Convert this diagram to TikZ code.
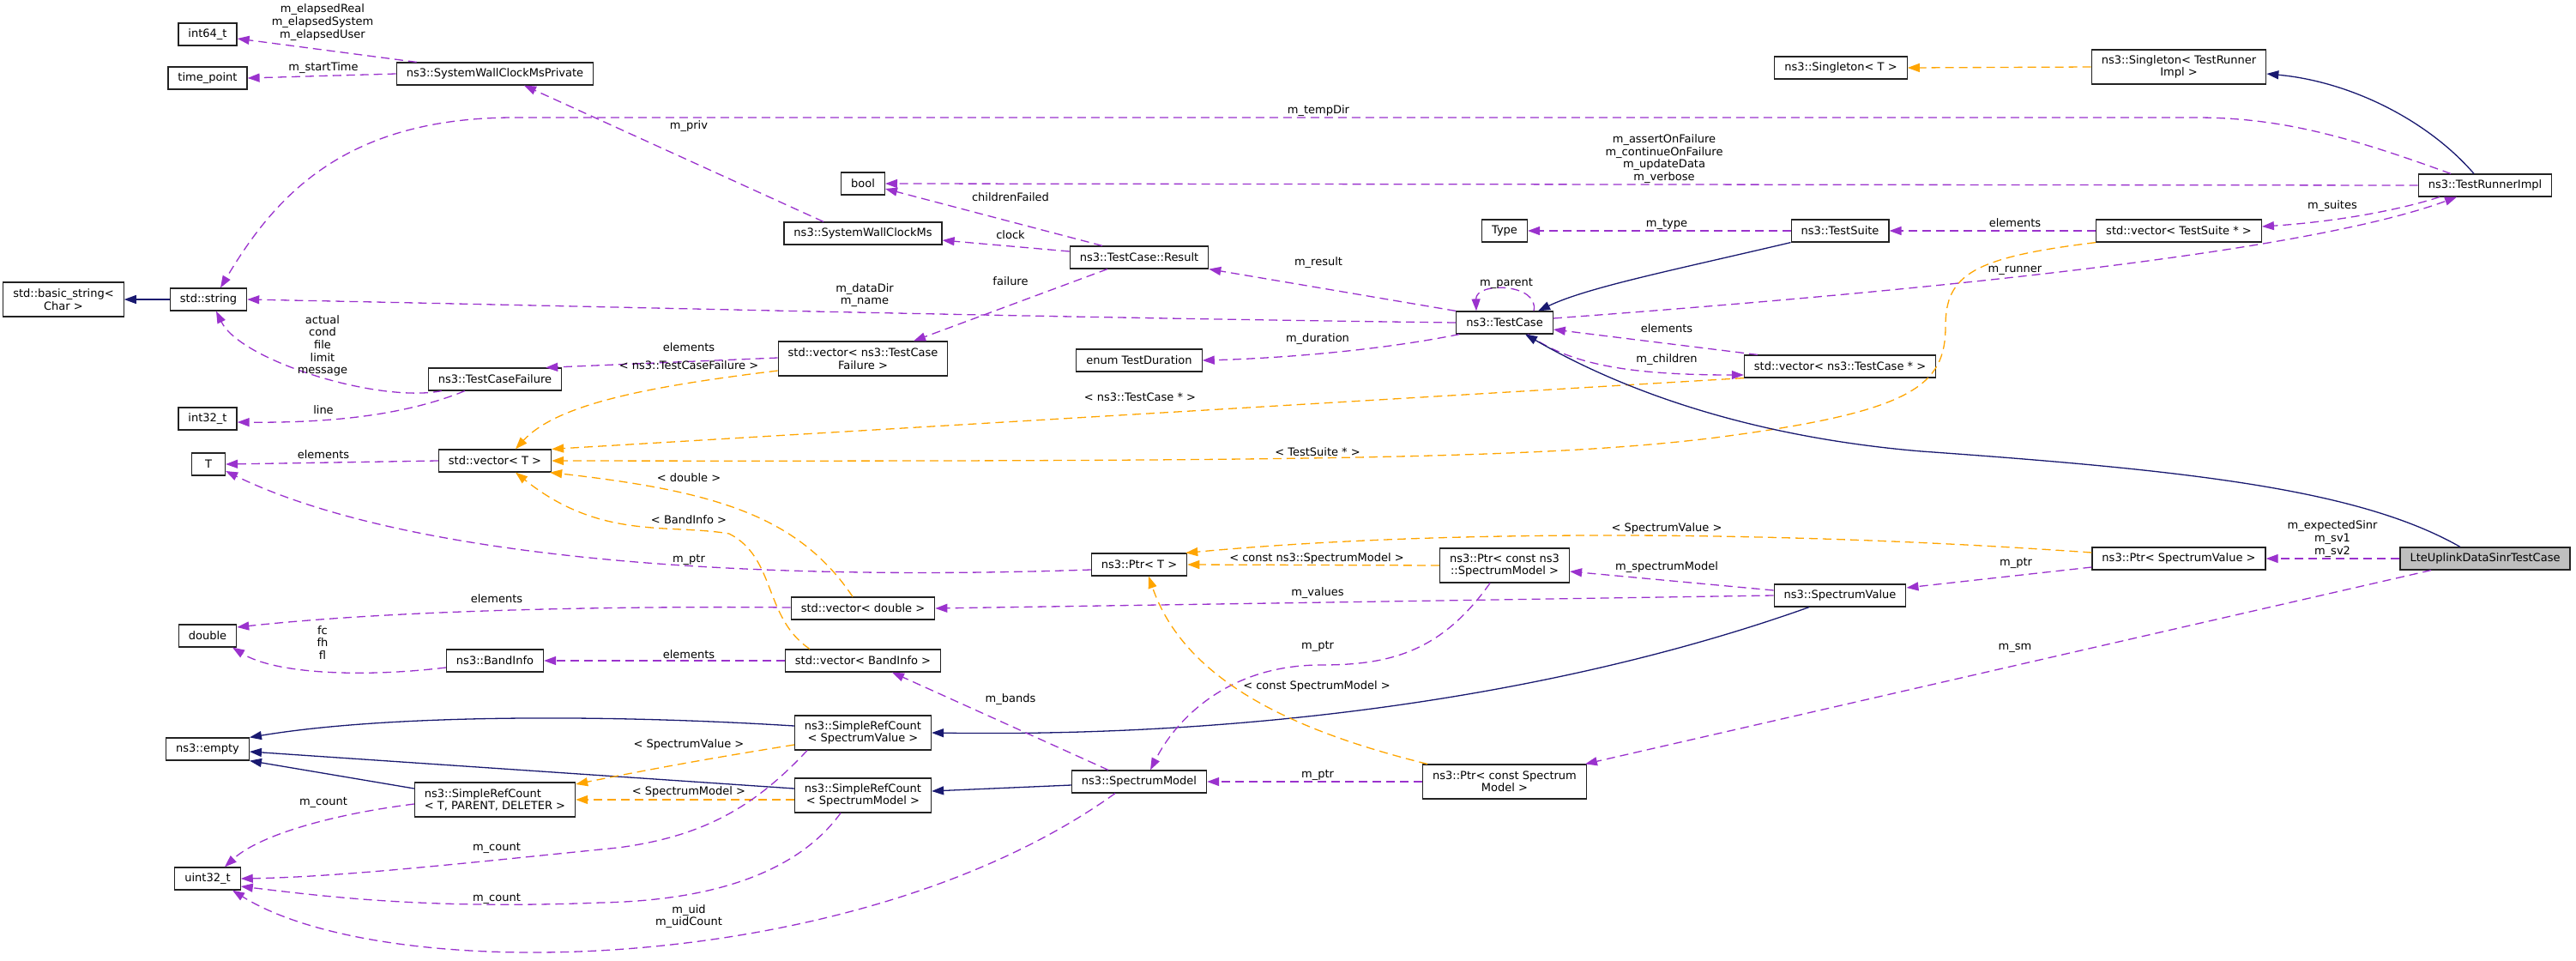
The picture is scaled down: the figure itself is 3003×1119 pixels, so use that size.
\documentclass[tikz,border=0pt]{standalone}
\usepackage{fontspec}
\setmainfont{DejaVu Sans}
\usetikzlibrary{arrows.meta}
\definecolor{memcol}{HTML}{9A32CD}
\definecolor{inhcol}{HTML}{191970}
\definecolor{tplcol}{HTML}{FFA500}
\definecolor{boxgray}{HTML}{222222}
\definecolor{rootfill}{HTML}{BFBFBF}
\begin{document}
\begin{tikzpicture}[x=1pt,y=-1pt,
    box/.style={draw=boxgray,line width=1.2pt,fill=white,font=\fontsize{13}{14.3}\selectfont,
      inner xsep=11.5pt,inner ysep=0pt,minimum height=26pt,minimum width=39pt,align=center},
    box2/.style={box,minimum height=40pt},
    rootbox/.style={box,fill=rootfill},
    lbl/.style={font=\fontsize{13}{14.6}\selectfont,inner sep=0pt,align=center},
    member/.style={draw=memcol,line width=1.3pt,dash pattern=on 10pt off 6pt,-{Triangle[length=14pt,width=10pt]}},
    templ/.style={draw=tplcol,line width=1.3pt,dash pattern=on 10pt off 6pt,-{Triangle[length=14pt,width=10pt]}},
    inherit/.style={draw=inhcol,line width=1.3pt,-{Triangle[length=14pt,width=10pt]}}]
\useasboundingbox (0,0) rectangle (3003,1119);

\node[box] (n-int64) at (242,40) {int64\_t};
\node[box] (n-timept) at (242,91) {time\_point};
\node[box] (n-swcmp) at (577,86) {ns3::SystemWallClockMsPrivate};
\node[box2] (n-bstr) at (74,349) {std::basic\_string<\\Char >};
\node[box] (n-str) at (243,349) {std::string};
\node[box] (n-tcf) at (577,442) {ns3::TestCaseFailure};
\node[box] (n-int32) at (242,488) {int32\_t};
\node[box] (n-T) at (243,541) {T};
\node[box] (n-vecT) at (577,537) {std::vector< T >};
\node[box] (n-double) at (242,741) {double};
\node[box] (n-band) at (577,770) {ns3::BandInfo};
\node[box] (n-empty) at (242,873) {ns3::empty};
\node[box2,align=left] (n-srcT) at (577,932) {ns3::SimpleRefCount\\< T, PARENT, DELETER >};
\node[box] (n-u32) at (242,1024) {uint32\_t};
\node[box] (n-bool) at (1006,214) {bool};
\node[box] (n-swcms) at (1006,272) {ns3::SystemWallClockMs};
\node[box2] (n-vtcf) at (1006,418) {std::vector< ns3::TestCase\\Failure >};
\node[box] (n-vdbl) at (1006,709) {std::vector< double >};
\node[box] (n-vband) at (1006,770) {std::vector< BandInfo >};
\node[box2] (n-srcsv) at (1006,854) {ns3::SimpleRefCount\\< SpectrumValue >};
\node[box2] (n-srcsm) at (1006,927) {ns3::SimpleRefCount\\< SpectrumModel >};
\node[box] (n-result) at (1328,300) {ns3::TestCase::Result};
\node[box] (n-dur) at (1328,420) {enum TestDuration};
\node[box] (n-ptrT) at (1328,658) {ns3::Ptr< T >};
\node[box] (n-sm) at (1328,911) {ns3::SpectrumModel};
\node[box] (n-type) at (1754,269) {Type};
\node[box] (n-tc) at (1754,376) {ns3::TestCase};
\node[box2] (n-pcns3) at (1754,659) {ns3::Ptr< const ns3\\::SpectrumModel >};
\node[box2] (n-pcsm) at (1754,911) {ns3::Ptr< const Spectrum\\Model >};
\node[box] (n-sgT) at (2146,79) {ns3::Singleton< T >};
\node[box] (n-suite) at (2145,269) {ns3::TestSuite};
\node[box] (n-vtc) at (2145,427) {std::vector< ns3::TestCase * >};
\node[box] (n-sv) at (2145,694) {ns3::SpectrumValue};
\node[box2] (n-sgtri) at (2540,78) {ns3::Singleton< TestRunner\\Impl >};
\node[box] (n-vts) at (2540,269) {std::vector< TestSuite * >};
\node[box] (n-psv) at (2540,651) {ns3::Ptr< SpectrumValue >};
\node[box] (n-tri) at (2897,216) {ns3::TestRunnerImpl};
\node[rootbox] (n-lte) at (2897,651) {LteUplinkDataSinrTestCase};

\draw[member] ([xshift=24pt]n-swcmp.north west) -- ([yshift=-5pt]n-int64.east);
\draw[member] (n-swcmp.west) -- (n-timept.east);
\draw[member] ([xshift=-40pt]n-tri.north) .. controls (2740,160) and (2660,137) .. (2560,137) -- (600,137)
  .. controls (400,137) and (320,230) .. ([xshift=14pt]n-str.north);
\draw[inherit] (n-str.west) -- (n-bstr.east);
\draw[member] (n-tc.west) .. controls (1200,370) and (700,357) .. (n-str.east);
\draw[member] ([xshift=16pt]n-tcf.south west) .. controls (440,470) and (280,420) .. ([xshift=9pt]n-str.south);
\draw[member] ([xshift=43pt]n-tcf.south west) .. controls (470,485) and (380,493) .. ([yshift=-4pt]n-int32.east);
\draw[member] ([yshift=1pt]n-vtcf.west) -- ([xshift=-19pt]n-tcf.north east);
\draw[templ] ([yshift=-14pt]n-vtcf.west) .. controls (760,450) and (650,470) .. ([xshift=24pt]n-vecT.north);
\draw[member] (n-vecT.west) -- (n-T.east);
\draw[member] ([yshift=-6pt]n-ptrT.west) .. controls (800,680) and (450,640) .. ([yshift=-8pt]n-T.east);
\draw[member] ([xshift=-46pt]n-swcms.north) -- ([xshift=34pt]n-swcmp.south);
\draw[member] (n-tri.west) -- (n-bool.east);
\draw[member] ([xshift=-43pt]n-result.north) -- ([yshift=-6pt]n-bool.east);
\draw[member] ([yshift=7pt]n-result.west) -- ([yshift=-8pt]n-swcms.east);
\draw[member] ([xshift=-37pt]n-result.south) -- ([xshift=59pt]n-vtcf.north);
\draw[member] (n-tc.north west) -- (n-result.south east);
\draw[member] ([xshift=4pt]n-tc.south west) .. controls (1600,410) and (1480,418) .. (n-dur.east);
\draw[member] ([xshift=34pt]n-tc.north) .. controls (1795,330) and (1720,328) .. ([xshift=-33pt]n-tc.north);
\draw[member] ([xshift=16pt]n-vtc.north west) -- ([yshift=-8pt]n-tc.east);
\draw[member] ([xshift=27pt]n-tc.south) .. controls (1830,425) and (1900,437) .. ([yshift=-10pt]n-vtc.west);
\draw[templ] (n-vtc.south west) -- (n-vecT.north east);
\draw[templ] (n-vts.south west) .. controls (2300,300) and (2268,320) .. (2268,380)
  .. controls (2268,450) and (2230,480) .. (2000,510) .. controls (1800,535) and (1500,538) .. (n-vecT.east);
\draw[inherit] (n-suite.south west) .. controls (1950,315) and (1850,335) .. ([xshift=39pt]n-tc.north);
\draw[member] (n-vts.west) -- (n-suite.east);
\draw[member] (n-suite.west) -- (n-type.east);
\draw[member] ([xshift=-53pt]n-tri.south) .. controls (2780,250) and (2700,260) .. ([yshift=5pt]n-vts.east);
\draw[member] ([yshift=5pt]n-tc.east) .. controls (2300,335) and (2700,290) .. ([xshift=-33pt]n-tri.south);
\draw[inherit] ([xshift=-13pt]n-tri.north) .. controls (2830,140) and (2740,95) .. ([yshift=-8pt]n-sgtri.east);
\draw[templ] (n-sgtri.west) -- (n-sgT.east);
\draw[inherit] ([xshift=-29pt]n-lte.north) .. controls (2750,570) and (2550,548) .. (2240,526)
  .. controls (2050,510) and (1900,460) .. ([xshift=24pt]n-tc.south);
\draw[member] (n-lte.west) -- (n-psv.east);
\draw[member] ([xshift=-63pt]n-lte.south) -- ([xshift=-2pt]n-pcsm.north east);
\draw[member] ([yshift=-10pt]n-psv.west) -- ([yshift=9pt]n-sv.east);
\draw[templ] ([yshift=7pt]n-psv.west) .. controls (2100,620) and (1700,615) .. ([xshift=-2pt]n-ptrT.north east);
\draw[member] ([yshift=6pt]n-sv.west) -- ([yshift=-7pt]n-pcns3.east);
\draw[member] (n-sv.west) -- (n-vdbl.east);
\draw[inherit] ([xshift=-36pt]n-sv.south) .. controls (1850,800) and (1500,860) .. (n-srcsv.east);
\draw[templ] (n-pcns3.west) -- (n-ptrT.east);
\draw[member] ([xshift=-17pt]n-pcns3.south) .. controls (1680,760) and (1620,775) .. (1540,775)
  .. controls (1430,775) and (1370,840) .. ([xshift=13pt]n-sm.north);
\draw[templ] ([xshift=6pt]n-pcsm.north west) .. controls (1500,850) and (1380,790) .. ([xshift=11pt]n-ptrT.south);
\draw[member] (n-pcsm.west) -- (n-sm.east);
\draw[member] ([xshift=-36pt]n-sm.north) -- ([xshift=34pt]n-vband.south);
\draw[inherit] ([yshift=-4pt]n-sm.west) -- ([yshift=5pt]n-srcsm.east);
\draw[member] ([xshift=-28pt]n-sm.south) .. controls (1000,1140) and (450,1150) .. ([xshift=29pt]n-u32.south);
\draw[member] ([yshift=1pt]n-vdbl.west) .. controls (700,706) and (450,712) .. ([yshift=10pt]n-double.east);
\draw[templ] ([xshift=-12pt]n-vdbl.north) .. controls (930,600) and (830,572) .. ([xshift=-2pt]n-vecT.south east);
\draw[templ] ([xshift=-62pt]n-vband.north) .. controls (890,720) and (905,650) .. (850,622)
  .. controls (780,610) and (700,630) .. ([xshift=24pt]n-vecT.south);
\draw[member] (n-vband.west) -- (n-band.east);
\draw[member] ([yshift=-8pt]n-band.west) .. controls (420,790) and (320,785) .. ([xshift=29pt]n-double.south);
\draw[inherit] ([yshift=8pt]n-srcsv.west) .. controls (700,832) and (450,833) .. (n-empty.north east);
\draw[inherit] ([yshift=8pt]n-srcsm.west) -- ([yshift=-3pt]n-empty.east);
\draw[inherit] ([yshift=13pt]n-srcT.west) -- (n-empty.south east);
\draw[templ] ([yshift=-14pt]n-srcsv.west) .. controls (820,885) and (750,898) .. ([yshift=18pt]n-srcT.east);
\draw[templ] ([yshift=-5pt]n-srcsm.west) -- (n-srcT.east);
\draw[member] ([yshift=-5pt]n-srcT.west) .. controls (380,950) and (300,975) .. ([xshift=20pt]n-u32.north);
\draw[member] ([xshift=-65pt]n-srcsv.south) .. controls (880,940) and (820,975) .. (720,988)
  .. controls (550,1005) and (400,1022) .. (n-u32.east);
\draw[member] ([xshift=-26pt]n-srcsm.south) .. controls (920,1030) and (800,1050) .. (700,1052)
  .. controls (500,1060) and (380,1045) .. ([yshift=-9pt]n-u32.east);

\node[lbl] (l-elapsed) at (376,26) {m\_elapsedReal\\m\_elapsedSystem\\m\_elapsedUser};
\node[lbl] (l-start) at (377,79) {m\_startTime};
\node[lbl] (l-tempdir) at (1537,129) {m\_tempDir};
\node[lbl] (l-priv) at (803,147) {m\_priv};
\node[lbl] (l-flags) at (1940,185) {m\_assertOnFailure\\m\_continueOnFailure\\m\_updateData\\m\_verbose};
\node[lbl] (l-chfailed) at (1178,230) {childrenFailed};
\node[lbl] (l-suiteel) at (2349,260) {elements};
\node[lbl] (l-type) at (1943,261) {m\_type};
\node[lbl] (l-suites) at (2719,240) {m\_suites};
\node[lbl] (l-clock) at (1178,274) {clock};
\node[lbl] (l-result) at (1537,306) {m\_result};
\node[lbl] (l-runner) at (2349,315) {m\_runner};
\node[lbl] (l-failure) at (1178,328) {failure};
\node[lbl] (l-parent) at (1756,330) {m\_parent};
\node[lbl] (l-name) at (1008,344) {m\_dataDir\\m\_name};
\node[lbl] (l-tcel) at (1943,383) {elements};
\node[lbl] (l-dur) at (1536,395) {m\_duration};
\node[lbl] (l-msgs) at (376,403) {actual\\cond\\file\\limit\\message};
\node[lbl] (l-tcfel) at (803,405) {elements};
\node[lbl] (l-children) at (1943,419) {m\_children};
\node[lbl] (l-tcftpl) at (803,426) {< ns3::TestCaseFailure >};
\node[lbl] (l-tctpl) at (1329,463) {< ns3::TestCase * >};
\node[lbl] (l-line) at (377,478) {line};
\node[lbl] (l-tstpl) at (1536,527) {< TestSuite * >};
\node[lbl] (l-Tel) at (377,530) {elements};
\node[lbl] (l-dbltpl) at (803,557) {< double >};
\node[lbl] (l-bandtpl) at (803,606) {< BandInfo >};
\node[lbl] (l-svtpl) at (1943,616) {< SpectrumValue >};
\node[lbl] (l-sinr) at (2719,628) {m\_expectedSinr\\m\_sv1\\m\_sv2};
\node[lbl] (l-cns3tpl) at (1535,651) {< const ns3::SpectrumModel >};
\node[lbl] (l-Tptr) at (803,652) {m\_ptr};
\node[lbl] (l-svptr) at (2350,656) {m\_ptr};
\node[lbl] (l-specmodel) at (1943,661) {m\_spectrumModel};
\node[lbl] (l-values) at (1536,691) {m\_values};
\node[lbl] (l-dblel) at (579,698) {elements};
\node[lbl] (l-fc) at (376,749) {fc\\fh\\fl};
\node[lbl] (l-smptr1) at (1536,753) {m\_ptr};
\node[lbl] (l-sm) at (2349,755) {m\_sm};
\node[lbl] (l-bandel) at (803,763) {elements};
\node[lbl] (l-csmtpl) at (1535,800) {< const SpectrumModel >};
\node[lbl] (l-bands) at (1178,815) {m\_bands};
\node[lbl] (l-srcsvtpl) at (803,868) {< SpectrumValue >};
\node[lbl] (l-smptr2) at (1536,903) {m\_ptr};
\node[lbl] (l-srcsmtpl) at (803,923) {< SpectrumModel >};
\node[lbl] (l-count1) at (377,935) {m\_count};
\node[lbl] (l-count2) at (579,988) {m\_count};
\node[lbl] (l-count3) at (579,1047) {m\_count};
\node[lbl] (l-uid) at (803,1068) {m\_uid\\m\_uidCount};
\end{tikzpicture}
\end{document}
